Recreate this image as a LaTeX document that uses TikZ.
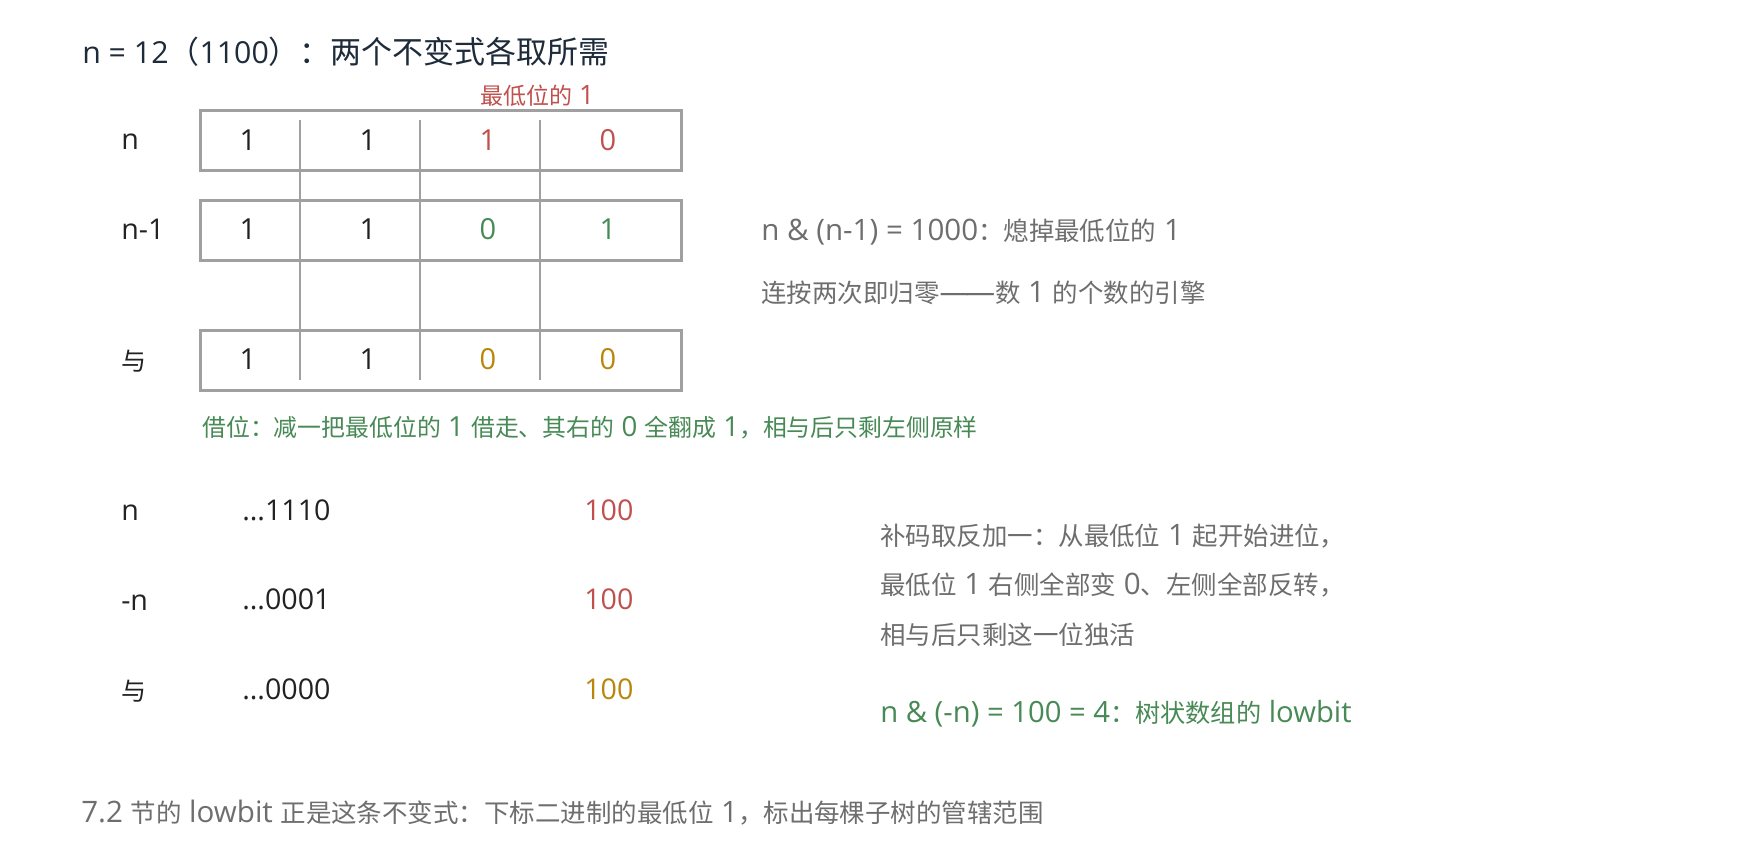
\documentclass[tikz,border=0pt]{standalone}
\usepackage{fontspec}
\setmainfont{Noto Sans CJK SC}
\newfontfamily\latf{Open Sans}[Scale=1.16]
\newcommand\la[1]{{\latf #1}}
\newcommand\fsz[1]{\fontsize{#1}{#1}\selectfont}
\definecolor{titlec}{HTML}{1E2B3A}
\definecolor{grayt}{HTML}{6E6E6E}
\definecolor{redt}{HTML}{C0504D}
\definecolor{greent}{HTML}{478A55}
\definecolor{goldt}{HTML}{B8860B}
\definecolor{boxc}{HTML}{A0A0A0}
\definecolor{darkt}{HTML}{222222}
\begin{document}
\begin{tikzpicture}[x=0.75pt,y=-0.75pt,
  lbl/.style={inner sep=0,anchor=west,font=\fsz{18.5pt}\latf,text=darkt},
  cjklbl/.style={inner sep=0,anchor=west,font=\fsz{18.75pt},text=darkt},
  bit/.style={inner sep=0,anchor=center,font=\fsz{18.75pt}\latf,text=darkt},
  note/.style={inner sep=0,anchor=west,font=\fsz{19.1pt},text=grayt},
  gnote/.style={inner sep=0,anchor=west,font=\fsz{19.1pt},text=greent},
  rowbox/.style={draw=boxc,line width=2.25pt},
  divider/.style={draw=boxc,line width=1.9pt}]
\useasboundingbox[fill=white] (0,0) rectangle (1760,860);

\node[inner sep=0,anchor=west,font=\fsz{23.2pt},text=titlec] (title) at (82,52) {{\fsz{19.6pt}\latf n = 12}（{\fsz{19.6pt}\latf 1100}）：两个不变式各取所需};
\node[inner sep=0,anchor=west,font=\fsz{17.25pt},text=redt] (lowlbl) at (480,96) {最低位的\la{ 1}};

% boxes
\draw[rowbox] (200,110) rectangle (681,170);
\draw[rowbox] (200,200) rectangle (681,260);
\draw[rowbox] (200,330) rectangle (681,390);
\foreach \x in {300,420,540} \draw[divider] (\x,120) -- (\x,380);

% row labels
\node[lbl] (ln) at (121,142) {n};
\node[lbl] (lnm) at (121,229) {n-1};
\node[cjklbl] (land) at (121,361) {与};

% bits
\node[bit] (a1) at (248,140.5) {1};
\node[bit] (a2) at (368,140.5) {1};
\node[bit,text=redt] (a3) at (488,140.5) {1};
\node[bit,text=redt] (a4) at (608,140.5) {0};
\node[bit] (b1) at (248,229) {1};
\node[bit] (b2) at (368,229) {1};
\node[bit,text=greent] (b3) at (488,229) {0};
\node[bit,text=greent] (b4) at (608,229) {1};
\node[bit] (c1) at (248,359) {1};
\node[bit] (c2) at (368,359) {1};
\node[bit,text=goldt] (c3) at (488,359) {0};
\node[bit,text=goldt] (c4) at (608,359) {0};

\node[gnote,font=\fsz{17.9pt}] (borrow) at (202,428) {借位：减一把最低位的\la{ 1 }借走、其右的\la{ 0 }全翻成\la{ 1}，相与后只剩左侧原样};

\node[note] (r1) at (761,232) {\la{n \& (n-1) = 1000}：熄掉最低位的\la{ 1}};
\node[note] (r2) at (761,293) {连按两次即归零\la{—\kern-0.12em—}数\la{ 1 }的个数的引擎};

% lower part
\node[lbl] (mn) at (121,513) {n};
\node[lbl] (mneg) at (121,603) {-n};
\node[cjklbl] (mand) at (121,691) {与};
\node[lbl] (v1) at (242,510) {...1110};
\node[lbl] (v2) at (242,599) {...0001};
\node[lbl] (v3) at (242,689) {...0000};
\node[lbl,text=redt] (w1) at (584,510) {100};
\node[lbl,text=redt] (w2) at (584,599) {100};
\node[lbl,text=goldt] (w3) at (584,689) {100};

\node[note] (s1) at (880,536) {补码取反加一：从最低位\la{ 1 }起开始进位，};
\node[note] (s2) at (880,585) {最低位\la{ 1 }右侧全部变\la{ 0}、左侧全部反转，};
\node[note] (s3) at (880,635) {相与后只剩这一位独活};
\node[gnote,font=\fsz{18.9pt}] (s4) at (880,714) {\la{n \& (-n) = 100 = 4}：树状数组的\la{ lowbit}};

\node[note] (foot) at (81,813) {\la{7.2 }节的\la{ lowbit }正是这条不变式：下标二进制的最低位\la{ 1}，标出每棵子树的管辖范围};
\end{tikzpicture}
\end{document}
